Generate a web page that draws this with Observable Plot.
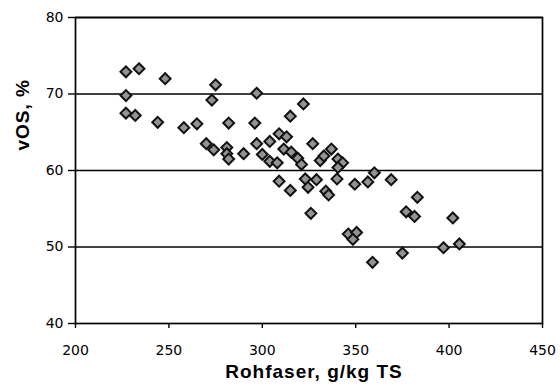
<!DOCTYPE html>
<html>
<head>
<meta charset="utf-8">
<script src="https://cdn.jsdelivr.net/npm/d3@7"></script>
<script src="https://cdn.jsdelivr.net/npm/@observablehq/plot@0.6"></script>
<style>
  html, body { margin: 0; padding: 0; background: #fff; }
  #chart { width: 560px; height: 390px; }
</style>
</head>
<body>
<div id="chart"></div>
<script>
// Rohfaser (g/kg TS) – x values
const rohfaser = [
  227, 234, 248, 275, 227, 273, 297, 227, 232, 244,
  258, 265, 282, 296, 315, 322, 270, 274, 281, 281,
  282, 290, 297, 300, 304, 309, 313, 304, 308, 311.5,
  315.5, 319, 321, 309, 315, 323, 324.5, 327, 331, 333,
  337, 340.5, 343, 340.5, 329, 340, 334, 335.5, 349.5, 360,
  369, 356.5, 326, 383, 377, 381.5, 402, 346, 350.5, 348.5,
  397, 405.5, 375, 359
];
// vOS (%) – y values
const vos = [
  72.9, 73.3, 72.0, 71.2, 69.8, 69.2, 70.1, 67.5, 67.2, 66.3,
  65.6, 66.1, 66.2, 66.2, 67.1, 68.7, 63.5, 62.7, 63.0, 62.2,
  61.5, 62.2, 63.5, 62.1, 63.8, 64.8, 64.4, 61.2, 61.0, 62.8,
  62.4, 61.6, 60.8, 58.6, 57.4, 58.9, 57.8, 63.5, 61.3, 61.9,
  62.8, 61.5, 61.0, 60.4, 58.8, 58.9, 57.3, 56.8, 58.2, 59.7,
  58.8, 58.5, 54.4, 56.5, 54.6, 54.0, 53.8, 51.7, 51.9, 51.0,
  49.9, 50.4, 49.2, 48.0
];
const xTicks = [200, 250, 300, 350, 400, 450];
const yTicks = [40, 50, 60, 70, 80];
const gridLines = [50, 60, 70, 80];
const xTitle = "Rohfaser, g/kg TS";
const yTitle = "vOS, %";

const data = rohfaser.map((x, i) => ({x, y: vos[i]}));

const chart = Plot.plot({
  width: 560,
  height: 390,
  marginLeft: 75,
  marginRight: 18,
  marginTop: 17,
  marginBottom: 67,
  style: {fontFamily: "'DejaVu Sans', sans-serif", color: "#000", background: "#fff"},
  x: {domain: [200, 450]},
  y: {domain: [40, 80]},
  marks: [
    Plot.ruleY(gridLines, {stroke: "#000", strokeWidth: 1.7}),
    Plot.frame({stroke: "#000", strokeWidth: 1.7}),
    Plot.axisX(xTicks, {label: null, tickSize: 5, tickPadding: 17, fontSize: 14, stroke: "#000", strokeWidth: 1.4}),
    Plot.axisY(yTicks, {label: null, tickSize: 7, tickPadding: 5, fontSize: 14, stroke: "#000", strokeWidth: 1.4}),
    Plot.dot(data, {x: "x", y: "y", symbol: "diamond2", r: 4.9, fill: "#939393", stroke: "#111", strokeWidth: 2}),
    Plot.text([xTitle], {frameAnchor: "bottom", dy: 54, dx: 5, fontSize: 19, fontWeight: "bold", fontFamily: "Liberation Sans, Arial, sans-serif", fill: "#000", className: "axtitle"}),
    Plot.text([yTitle], {frameAnchor: "left", rotate: -90, dx: -53, dy: -20, fontSize: 19, fontWeight: "bold", fontFamily: "Liberation Sans, Arial, sans-serif", fill: "#000", className: "axtitle"})
  ]
});
d3.select(chart).selectAll(".axtitle text").style("letter-spacing", "1px");
document.getElementById("chart").appendChild(chart);
</script>
</body>
</html>
